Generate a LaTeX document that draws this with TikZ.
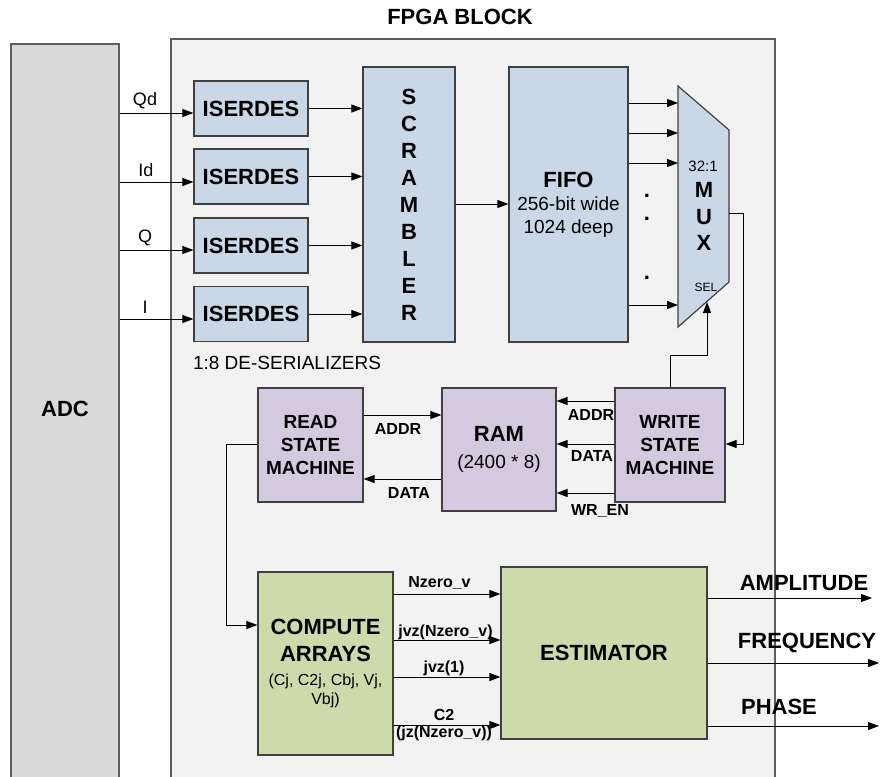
\documentclass[tikz,border=0pt]{standalone}
\usepackage{fontspec}
\setmainfont{Liberation Sans}
\usetikzlibrary{arrows.meta}
\definecolor{bluebox}{HTML}{C9D7E7}
\definecolor{purplebox}{HTML}{D3CADF}
\definecolor{greenbox}{HTML}{CCDBA9}
\definecolor{fpgabg}{HTML}{F2F2F2}
\definecolor{adcbg}{HTML}{D9D9D9}
\definecolor{edgecol}{HTML}{404040}
\begin{document}
\begin{tikzpicture}[x=1pt,y=-1pt,
  box/.style={draw=edgecol, line width=1.2pt, inner sep=0pt, align=center, anchor=center},
  arr/.style={draw=black, line width=1pt, -{Triangle[length=11pt,width=8pt]}},
  bigb/.style={font=\fontsize{22}{26}\selectfont\bfseries},
  midb/.style={font=\fontsize{19}{23}\selectfont\bfseries},
  lbl/.style={font=\fontsize{16}{18}\selectfont\bfseries, inner sep=0pt},
  sig/.style={font=\fontsize{18}{20}\selectfont, inner sep=0pt},
  outl/.style={font=\fontsize{22}{26}\selectfont\bfseries, inner sep=0pt}
]
\useasboundingbox (0,0) rectangle (880,776);
\clip (0,0) rectangle (880,776);
\fill[white] (0,0) rectangle (880,776);

% outer blocks
\node[draw=edgecol!85, fill=fpgabg, line width=1.3pt, minimum width=604pt, minimum height=751pt, inner sep=0pt] (fpga) at (473,414.5) {};
\node[draw=edgecol!85, fill=adcbg, line width=1.3pt, minimum width=108pt, minimum height=746pt, inner sep=0pt] (adc) at (65,417) {};
\node[bigb, inner sep=0pt] (adclabel) at (65,409) {ADC};
\node[bigb, inner sep=0pt] (title) at (460,17) {FPGA BLOCK};

% ISERDES
\node[box, fill=bluebox, minimum width=114pt, minimum height=55pt, bigb] (is1) at (251,108.5) {ISERDES};
\node[box, fill=bluebox, minimum width=114pt, minimum height=55pt, bigb] (is2) at (251,176.5) {ISERDES};
\node[box, fill=bluebox, minimum width=114pt, minimum height=55pt, bigb] (is3) at (251,245.5) {ISERDES};
\node[box, fill=bluebox, minimum width=114pt, minimum height=55pt, bigb] (is4) at (251,314) {ISERDES};
\node[font=\fontsize{19}{22}\selectfont, inner sep=0pt] (deser) at (287,363) {1:8 DE-SERIALIZERS};

% ADC signals
\draw[arr] (adc.east |- 0,113) -- (is1.west |- 0,113);
\draw[arr] (adc.east |- 0,182) -- (is2.west |- 0,182);
\draw[arr] (adc.east |- 0,250) -- (is3.west |- 0,250);
\draw[arr] (adc.east |- 0,319) -- (is4.west |- 0,319);
\node[sig] (lqd) at (145,101) {Qd};
\node[sig] (lid) at (146,170) {Id};
\node[sig] (lq) at (145,238) {Q};
\node[sig] (li) at (145,307) {I};

% scrambler and FIFO
\node[box, fill=bluebox, minimum width=92pt, minimum height=275pt, font=\fontsize{22}{27}\selectfont\bfseries] (scr) at (409,204.5) {S\\C\\R\\A\\M\\B\\L\\E\\R};
\node[box, fill=bluebox, minimum width=119pt, minimum height=275pt, font=\fontsize{19}{23}\selectfont] (fifo) at (568.5,204.5) {{\fontsize{22}{25}\selectfont\bfseries FIFO}\\256-bit wide\\1024 deep};

\draw[arr] (is1.east) -- (is1.east -| scr.west);
\draw[arr] (is2.east) -- (is2.east -| scr.west);
\draw[arr] (is3.east) -- (is3.east -| scr.west);
\draw[arr] (is4.east) -- (is4.east -| scr.west);
\draw[arr] (scr.east |- 0,204) -- (fifo.west |- 0,204);

% MUX
\draw[draw=edgecol, line width=1.2pt, fill=bluebox] (678,86) -- (729,130) -- (729,282) -- (678,327) -- cycle;
\coordinate (muxin1) at (678,103);
\coordinate (muxin2) at (678,133);
\coordinate (muxin3) at (678,163);
\coordinate (muxin4) at (678,305);
\coordinate (muxout) at (729,213);
\coordinate (muxsel) at (707,302);
\node[font=\fontsize{15}{18}\selectfont, inner sep=0pt] (mux32) at (703,166) {32:1};
\node[font=\fontsize{22}{26.5}\selectfont\bfseries, align=center, inner sep=0pt] (muxt) at (704,216.5) {M\\U\\X};
\node[font=\fontsize{12}{14}\selectfont, inner sep=0pt] (sel) at (706,287) {SEL};
\draw[arr] (fifo.east |- muxin1) -- (muxin1);
\draw[arr] (fifo.east |- muxin2) -- (muxin2);
\draw[arr] (fifo.east |- muxin3) -- (muxin3);
\draw[arr] (fifo.east |- muxin4) -- (muxin4);
\node[bigb, inner sep=0pt] (dot1) at (647,196) {.};
\node[bigb, inner sep=0pt] (dot2) at (647,219) {.};
\node[bigb, inner sep=0pt] (dot3) at (647,278) {.};

% state machines and RAM
\node[box, fill=purplebox, minimum width=105pt, minimum height=114pt, midb] (rsm) at (310.5,445) {READ\\STATE\\MACHINE};
\node[box, fill=purplebox, minimum width=114pt, minimum height=123pt, font=\fontsize{19}{27}\selectfont] (ram) at (499,449.5) {{\fontsize{22}{26}\selectfont\bfseries RAM}\\(2400 * 8)};
\node[box, fill=purplebox, minimum width=110pt, minimum height=114pt, midb] (wsm) at (670,445) {WRITE\\STATE\\MACHINE};

\draw[arr] (rsm.east |- 0,415) -- (ram.west |- 0,415);
\draw[arr] (ram.west |- 0,479) -- (rsm.east |- 0,479);
\node[lbl] (laddr1) at (398,429) {ADDR};
\node[lbl] (ldata1) at (409,493) {DATA};

\draw[arr] (wsm.west |- 0,401) -- (ram.east |- 0,401);
\draw[arr] (wsm.west |- 0,444) -- (ram.east |- 0,444);
\draw[arr] (wsm.west |- 0,493) -- (ram.east |- 0,493);
\node[lbl] (laddr2) at (591,415) {ADDR};
\node[lbl] (ldata2) at (592,456) {DATA};
\node[lbl] (lwren) at (600,511) {WR\_EN};

\coordinate (muxr) at (743,444);
\draw[arr] (muxout) -| (muxr) -- (wsm.east |- muxr);
\coordinate (selk) at (707,355);
\draw[arr] (wsm.north) |- (selk) -- (muxsel);

% compute and estimator
\node[box, fill=greenbox, minimum width=135pt, minimum height=183pt, font=\fontsize{22}{27}\selectfont\bfseries] (comp) at (325.5,663.5) {COMPUTE\\ARRAYS\\[-3pt]{\fontsize{16}{18}\mdseries\selectfont (Cj, C2j, Cbj, Vj,}\\[-8pt]{\fontsize{16}{18}\mdseries\selectfont Vbj)}};
\node[box, fill=greenbox, minimum width=206pt, minimum height=172pt, bigb] (est) at (604,653) {ESTIMATOR};

\coordinate (rk) at (226,444);
\draw[arr] (rsm.west |- rk) -- (rk) |- (comp.west |- 0,625);

\draw[arr] (comp.east |- 0,594) -- (est.west |- 0,594);
\draw[arr] (comp.east |- 0,640) -- (est.west |- 0,640);
\draw[arr] (comp.east |- 0,677) -- (est.west |- 0,677);
\draw[arr] (comp.east |- 0,725) -- (est.west |- 0,725);
\node[lbl] (lnz) at (439.5,583) {Nzero\_v};
\node[lbl] (ljvz) at (445.5,632) {jvz(Nzero\_v)};
\node[lbl] (ljv1) at (444,668) {jvz(1)};
\node[lbl] (lc2) at (444,715) {C2};
\node[lbl] (ljz) at (444,733) {(jz(Nzero\_v))};

\coordinate (oa) at (872,598);
\coordinate (of) at (879,663);
\coordinate (op) at (879,726);
\draw[arr] (est.east |- oa) -- (oa);
\draw[arr] (est.east |- of) -- (of);
\draw[arr] (est.east |- op) -- (op);
\node[outl] (lamp) at (804,583) {AMPLITUDE};
\node[outl] (lfreq) at (807,643) {FREQUENCY};
\node[outl] (lphase) at (779,707) {PHASE};
\end{tikzpicture}
\end{document}
